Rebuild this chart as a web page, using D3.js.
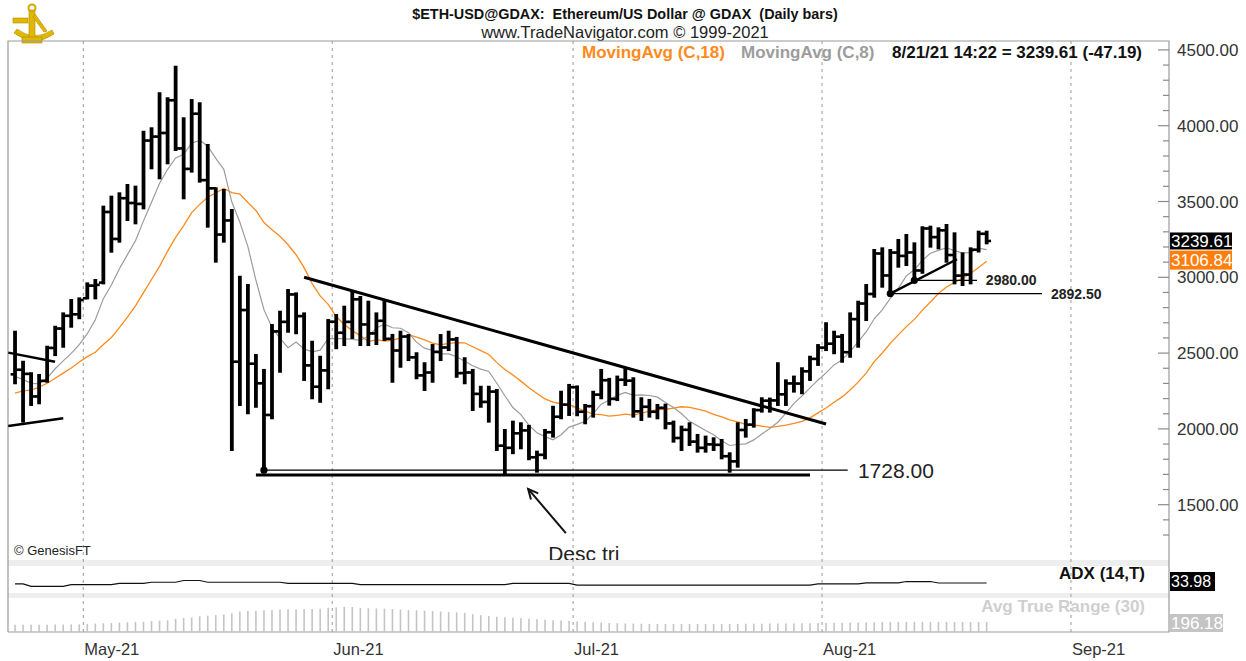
<!DOCTYPE html>
<html lang="en">
<head>
    <meta charset="UTF-8">
    <title>$ETH-USD@GDAX Daily bars</title>
    <script src="https://d3js.org/d3.v7.min.js"></script>
    <style>
        body {
            margin: 0;
            background-color: #ffffff;
            font-family: Arial, "Liberation Sans", sans-serif;
        }

        svg {
            display: block;
        }

        .axis-label {
            font-size: 17px;
            fill: #333;
        }

        .month-label {
            font-size: 16.5px;
            fill: #333;
        }

        .grid {
            stroke: #9a9a9a;
            stroke-width: 1;
            stroke-dasharray: 3, 4;
        }
    </style>
</head>
<body>
<svg width="1246" height="661"></svg>
<script>
    // daily bars, 4/22/21 .. 8/21/21
    const firstDay = "2021-04-22T12:00:00Z";

    const opens = [2360, 2390, 2363, 2214, 2317, 2534, 2662, 2746, 2756, 2862,
        2945, 2965, 3431, 3253, 3522, 3490, 3484, 3902, 3928, 3952,
        4168, 3850, 3715, 4079, 3641, 3587, 3282, 3375, 2443, 2784,
        2430, 2301, 2092, 2643, 2706, 2887, 2744, 2419, 2278, 2386,
        2707, 2634, 2706, 2855, 2689, 2630, 2713, 2594, 2517, 2609,
        2472, 2353, 2372, 2508, 2537, 2590, 2368, 2372, 2231, 2178,
        2246, 1889, 1875, 1971, 1990, 1813, 1829, 1978, 2080, 2160,
        2275, 2113, 2150, 2226, 2321, 2198, 2324, 2318, 2116, 2146,
        2113, 2139, 2036, 1940, 1994, 1916, 1875, 1898, 1895, 1820,
        1786, 1993, 2028, 2124, 2186, 2188, 2228, 2300, 2299, 2380,
        2462, 2536, 2562, 2608, 2506, 2724, 2827, 2890, 3157, 3012,
        3163, 3141, 3164, 3045, 3322, 3265, 3310, 3147, 3011, 3018,
        3182, 3287];

    const highs = [2641, 2443, 2367, 2356, 2542, 2674, 2762, 2850, 2861, 2960,
        2982, 3466, 3532, 3554, 3609, 3598, 3960, 3983, 4214, 4181,
        4389, 4049, 4169, 4148, 3873, 3587, 3576, 3444, 3004, 2949,
        2487, 2389, 2685, 2773, 2916, 2894, 2762, 2575, 2476, 2718,
        2751, 2806, 2905, 2870, 2839, 2762, 2850, 2620, 2641, 2619,
        2499, 2433, 2553, 2619, 2641, 2600, 2466, 2389, 2278, 2278,
        2257, 1993, 2048, 2037, 2020, 1850, 1993, 2146, 2245, 2290,
        2280, 2158, 2245, 2389, 2330, 2345, 2400, 2334, 2202, 2191,
        2158, 2160, 2048, 2015, 2037, 1960, 1949, 1938, 1927, 1839,
        2037, 2059, 2130, 2202, 2200, 2433, 2320, 2345, 2400, 2476,
        2553, 2697, 2641, 2620, 2762, 2839, 2949, 3180, 3191, 3180,
        3246, 3279, 3224, 3330, 3334, 3323, 3345, 3290, 3158, 3191,
        3301, 3301];

    const lows = [2301, 2048, 2158, 2169, 2311, 2487, 2542, 2674, 2730, 2861,
        2861, 2960, 3169, 3235, 3378, 3356, 3455, 3719, 3653, 3752,
        3840, 3521, 3697, 3631, 3334, 3103, 3235, 1861, 2158, 2103,
        2146, 1728, 2070, 2377, 2641, 2631, 2323, 2202, 2179, 2268,
        2532, 2553, 2600, 2553, 2553, 2560, 2587, 2311, 2410, 2454,
        2334, 2257, 2311, 2454, 2520, 2344, 2301, 2125, 2146, 2048,
        1861, 1707, 1840, 1872, 1800, 1718, 1806, 1949, 2070, 2092,
        2090, 2037, 2081, 2202, 2160, 2190, 2290, 2081, 2059, 2081,
        2070, 2004, 1916, 1861, 1894, 1850, 1850, 1861, 1806, 1718,
        1751, 1949, 2015, 2114, 2114, 2158, 2158, 2246, 2235, 2323,
        2422, 2520, 2499, 2443, 2476, 2542, 2718, 2872, 2938, 2892.5,
        3070, 3081, 2980, 3030, 3202, 3191, 3103, 2960, 2949, 2960,
        3170, 3224];

    const closes = [2390, 2363, 2214, 2317, 2534, 2662, 2746, 2756, 2850, 2945,
        2950, 3431, 3253, 3522, 3490, 3484, 3902, 3928, 3952, 4168,
        3850, 3715, 4079, 3641, 3587, 3282, 3375, 2443, 2784, 2430,
        2301, 2092, 2643, 2706, 2887, 2744, 2419, 2278, 2386, 2707,
        2634, 2706, 2855, 2689, 2630, 2713, 2594, 2517, 2609, 2472,
        2353, 2372, 2508, 2537, 2590, 2368, 2372, 2231, 2178, 2246,
        1889, 1875, 1971, 1990, 1813, 1829, 1978, 2080, 2160, 2275,
        2113, 2150, 2226, 2321, 2198, 2324, 2318, 2116, 2146, 2113,
        2139, 2036, 1940, 1994, 1916, 1875, 1898, 1895, 1820, 1786,
        1993, 2028, 2124, 2186, 2188, 2228, 2300, 2299, 2380, 2462,
        2536, 2562, 2608, 2506, 2724, 2827, 2890, 3157, 3012, 3163,
        3141, 3164, 3045, 3322, 3265, 3310, 3147, 3011, 3018, 3182,
        3287, 3239.61];

    // closes 4/5 .. 4/21, only needed to start the moving averages
    const priorCloses = [2107, 2113, 1964, 2078, 2071, 2134, 2154, 2140, 2300,
        2432, 2514, 2422, 2340, 2237, 2166, 2330, 2364];

    // last values as printed on the right axis
    const lastMa18 = 3106.84;
    const lastChange = -47.19;

    const adxValues = [30.8, 30.8, 22.3, 22.3, 22.3, 22.3, 22.3, 28.3, 28.3, 28.3,
        28.3, 28.3, 28.3, 32.9, 32.9, 32.9, 32.9, 36.5, 36.5, 36.5,
        36.5, 42.5, 42.5, 42.5, 36.5, 36.5, 36.5, 36.5, 36.5, 36.5,
        36.5, 36.5, 36.5, 36.5, 32.9, 32.9, 32.9, 32.9, 32.9, 32.9,
        32.9, 32.9, 32.9, 28.3, 28.3, 28.3, 28.3, 28.3, 28.3, 28.3,
        28.3, 28.3, 28.3, 28.3, 28.3, 28.3, 28.3, 28.3, 28.3, 28.3,
        28.3, 28.3, 32.9, 32.9, 32.9, 32.9, 32.9, 32.9, 32.9, 32.9,
        27, 27, 27, 27, 27, 27, 27, 27, 27, 27,
        27, 27, 27, 27, 27, 27, 27, 27, 27, 27,
        27, 27, 27, 27, 27, 27, 27, 27, 27, 27,
        30.8, 30.8, 30.8, 30.8, 30.8, 30.8, 34.4, 34.4, 34.4, 34.4,
        34.4, 39, 39, 39, 39, 34, 34, 34, 34, 34,
        34, 33.98];

    const atrValues = [140, 140, 142, 142, 144, 145, 146, 148, 150, 160,
        165, 170, 175, 185, 190, 196, 200, 215, 224, 230,
        260, 275, 285, 310, 320, 330, 345, 370, 400, 410,
        415, 425, 430, 440, 445, 448, 450, 450, 455, 475,
        485, 493, 490, 470, 465, 462, 458, 450, 440, 432,
        425, 420, 410, 400, 392, 385, 375, 350, 330, 315,
        300, 290, 280, 270, 260, 250, 240, 232, 225, 215,
        205, 198, 192, 185, 178, 172, 168, 165, 162, 160,
        158, 158, 157, 157, 156, 156, 155, 155, 155, 156,
        160, 162, 163, 163, 165, 167, 168, 168, 170, 172,
        175, 178, 180, 183, 185, 187, 190, 192, 194, 195,
        196, 197, 198, 198, 199, 199, 198, 198, 197, 197,
        196, 196.18];

    const priceTicks = [1500, 2000, 2500, 3000, 3500, 4000, 4500];
    const monthStarts = ["2021-05-01", "2021-06-01", "2021-07-01", "2021-08-01", "2021-09-01"];
    const monthLabels = ["May-21", "Jun-21", "Jul-21", "Aug-21", "Sep-21"];

    // drawn studies: [bar index, price] end points
    const trendLines = [
        {a: [-0.84, 2503], b: [4.98, 2443], w: 2.5},
        {a: [-0.84, 2019], b: [6.01, 2070], w: 2.5},
        {a: [36.0, 3000], b: [101.0, 2032], w: 3},
        {a: [30.0, 1696], b: [99.0, 1696], w: 3},
        {a: [30.8, 1728], b: [103.7, 1728], w: 1.2},
        {a: [109, 2892.5], b: [117.3, 3119], w: 2.5},
        {a: [112, 2980], b: [119.8, 2980], w: 1.2},
        {a: [109, 2892.5], b: [127.9, 2892.5], w: 1.2}
    ];
    const dots = [[31, 1728], [109, 2892.5], [112, 2980]];

    const svg = d3.select("svg");
    const frame = {left: 8, right: 1169, top: 41, mainBottom: 560, bottom: 632};
    const day = 24 * 3600 * 1000;
    const t0 = new Date(firstDay);
    const dateAt = i => new Date(t0.getTime() + i * day);

    const bars = closes.map((c, i) => ({
        date: dateAt(i), open: opens[i], high: highs[i], low: lows[i], close: c,
        adx: adxValues[i], atr: atrValues[i]
    }));

    const x = d3.scaleUtc()
        .domain([new Date("2021-04-21T15:00:00Z"), new Date("2021-09-13T05:00:00Z")])
        .range([frame.left, frame.right]);
    const y = d3.scaleLinear().domain([1500, 4500]).range([504.7, 49.9]);
    const yAdx = d3.scaleLinear().domain([0, 85]).range([593, 568]);
    const yAtr = d3.scaleLinear().domain([0, 500]).range([frame.bottom, frame.bottom - 25.5]);

    function movingAvg(period) {
        const all = priorCloses.concat(closes);
        const off = priorCloses.length;
        return closes.map((c, i) => d3.mean(all.slice(off + i - period + 1, off + i + 1)));
    }
    const ma18 = movingAvg(18), ma8 = movingAvg(8);

    // ---- logo (gold sextant)
    const logo = svg.append("g").attr("fill", "#e0b800").attr("stroke", "#b08a00").attr("stroke-width", 0.6);
    logo.append("path").attr("d", "M14,33 Q34,48 54,34 L52,30 Q34,42 17,29 Z");
    logo.append("rect").attr("x", 29).attr("y", 10).attr("width", 6).attr("height", 32);
    logo.append("rect").attr("x", 13).attr("y", 18).attr("width", 15).attr("height", 5);
    logo.append("path").attr("d", "M35,14 L47,31 L44,32 L33,17 Z");
    logo.append("circle").attr("cx", 32).attr("cy", 8).attr("r", 3.5).attr("fill", "none").attr("stroke", "#d0a800").attr("stroke-width", 2);
    logo.append("rect").attr("x", 22).attr("y", 37).attr("width", 20).attr("height", 6);

    // ---- titles
    svg.append("text").attr("x", 625).attr("y", 19).attr("text-anchor", "middle")
        .style("font-size", "14.4px").style("font-weight", "bold").style("white-space", "pre").attr("fill", "#111")
        .text("$ETH-USD@GDAX:  Ethereum/US Dollar @ GDAX  (Daily bars)");
    svg.append("text").attr("x", 625).attr("y", 38).attr("text-anchor", "middle")
        .style("font-size", "16.5px").attr("fill", "#222")
        .text("www.TradeNavigator.com \u00a9 1999-2021");

    // ---- panel bands and frame
    svg.append("rect").attr("x", frame.left).attr("y", 560).attr("width", frame.right - frame.left).attr("height", 6).attr("fill", "#eeeeee");
    svg.append("rect").attr("x", frame.left).attr("y", 593).attr("width", frame.right - frame.left).attr("height", 5).attr("fill", "#eeeeee");

    svg.selectAll(".grid").data(monthStarts).join("line")
        .attr("class", "grid")
        .attr("x1", d => x(new Date(d + "T00:00:00Z"))).attr("x2", d => x(new Date(d + "T00:00:00Z")))
        .attr("y1", frame.top).attr("y2", frame.bottom);

    svg.append("path")
        .attr("d", `M${frame.left},${frame.bottom}V${frame.top}H${frame.right}V${frame.bottom}H${frame.left}`)
        .attr("fill", "none").attr("stroke", "#9a9a9a").attr("stroke-width", 1.2);

    svg.selectAll(".month-label").data(monthLabels).join("text")
        .attr("class", "month-label")
        .attr("x", (d, i) => x(new Date(monthStarts[i] + "T00:00:00Z")) + 1)
        .attr("y", 655)
        .text(d => d);

    // ---- right price axis
    const minorTicks = d3.range(1300, 4600, 100);
    svg.selectAll(".minor").data(minorTicks).join("line")
        .attr("class", "minor")
        .attr("x1", d => d % 500 === 0 ? frame.right - 11 : frame.right - 6).attr("x2", frame.right)
        .attr("y1", d => y(d)).attr("y2", d => y(d))
        .attr("stroke", "#8a8a8a").attr("stroke-width", 1.2);
    svg.selectAll(".axis-label").data(priceTicks).join("text")
        .attr("class", "axis-label")
        .attr("x", 1177).attr("y", d => y(d)).attr("dy", "0.36em")
        .text(d => d3.format(".2f")(d));

    // ---- main price panel
    svg.append("clipPath").attr("id", "main-clip").append("rect")
        .attr("x", frame.left).attr("y", frame.top)
        .attr("width", frame.right - frame.left).attr("height", frame.mainBottom - frame.top);
    const main = svg.append("g").attr("clip-path", "url(#main-clip)");

    const maLine = vals => d3.line().x((d, i) => x(bars[i].date)).y(d => y(d))(vals);
    main.append("path").attr("d", maLine(ma18)).attr("fill", "none").attr("stroke", "#ff8a1c").attr("stroke-width", 1.3);
    main.append("path").attr("d", maLine(ma8)).attr("fill", "none").attr("stroke", "#9c9c9c").attr("stroke-width", 1.2);

    const barG = main.append("g").attr("stroke", "#000");
    barG.selectAll(".hl").data(bars).join("line")
        .attr("x1", d => x(d.date)).attr("x2", d => x(d.date))
        .attr("y1", d => y(d.high) - 1).attr("y2", d => y(d.low) + 1)
        .attr("stroke-width", 3.8);
    barG.selectAll(".op").data(bars).join("line")
        .attr("x1", d => x(d.date) - 4.4).attr("x2", d => x(d.date))
        .attr("y1", d => y(d.open)).attr("y2", d => y(d.open))
        .attr("stroke-width", 2.6);
    barG.selectAll(".cl").data(bars).join("line")
        .attr("x1", d => x(d.date)).attr("x2", d => x(d.date) + 4.4)
        .attr("y1", d => y(d.close)).attr("y2", d => y(d.close))
        .attr("stroke-width", 2.6);

    // drawn lines and markers
    main.selectAll(".trend").data(trendLines).join("line")
        .attr("x1", d => x(dateAt(d.a[0]))).attr("y1", d => y(d.a[1]))
        .attr("x2", d => x(dateAt(d.b[0]))).attr("y2", d => y(d.b[1]))
        .attr("stroke", "#000").attr("stroke-width", d => d.w);
    main.selectAll(".dot").data(dots).join("circle")
        .attr("cx", d => x(dateAt(d[0]))).attr("cy", d => y(d[1])).attr("r", 3.6).attr("fill", "#000");

    main.append("text").attr("x", x(dateAt(104.97))).attr("y", y(1728)).attr("dy", "0.36em")
        .style("font-size", "21px").attr("fill", "#222").text("1728.00");
    main.append("text").attr("x", x(dateAt(120.9))).attr("y", y(2980)).attr("dy", "0.36em")
        .style("font-size", "14px").style("font-weight", "bold").attr("fill", "#222").text("2980.00");
    main.append("text").attr("x", x(dateAt(129))).attr("y", y(2892.5)).attr("dy", "0.36em")
        .style("font-size", "14px").style("font-weight", "bold").attr("fill", "#222").text("2892.50");

    // arrow pointing at the triangle base
    const tip = [x(dateAt(63.9)), y(1604)], tail = [x(dateAt(68.6)), y(1313)];
    main.append("line").attr("x1", tail[0]).attr("y1", tail[1]).attr("x2", tip[0]).attr("y2", tip[1])
        .attr("stroke", "#111").attr("stroke-width", 2);
    const ang = Math.atan2(tail[1] - tip[1], tail[0] - tip[0]);
    const head = [-0.45, 0.45].map(a => [tip[0] + 11 * Math.cos(ang + a), tip[1] + 11 * Math.sin(ang + a)]);
    main.append("path").attr("d", `M${head[0]}L${tip}L${head[1]}`)
        .attr("fill", "none").attr("stroke", "#111").attr("stroke-width", 2);
    main.append("text").attr("x", x(dateAt(66.4))).attr("y", 561)
        .style("font-size", "21px").attr("fill", "#222").text("Desc tri");

    main.append("text").attr("x", 14).attr("y", 555)
        .style("font-size", "13px").attr("fill", "#222").text("\u00a9 GenesisFT");

    // legend
    const legend = svg.append("text").attr("y", 58).style("font-size", "17px").style("font-weight", "bold");
    legend.append("tspan").attr("x", 582).attr("fill", "#ff8a1c").text("MovingAvg (C,18)");
    legend.append("tspan").attr("x", 741).attr("fill", "#9c9c9c").text("MovingAvg (C,8)");
    legend.append("tspan").attr("x", 892).attr("fill", "#111")
        .text(`8/21/21 14:22 = ${closes[closes.length - 1].toFixed(2)} (${lastChange.toFixed(2)})`);

    // last value boxes on the axis
    function valueBox(cy, h, bg, label) {
        svg.append("rect").attr("x", frame.right + 1).attr("y", cy - h / 2).attr("width", 62).attr("height", h).attr("fill", bg);
        svg.append("text").attr("x", frame.right + 2).attr("y", cy).attr("dy", "0.36em")
            .style("font-size", "17px").attr("fill", "#fff").text(label);
    }
    valueBox(y(closes[closes.length - 1]), 17, "#000", closes[closes.length - 1].toFixed(2));
    valueBox(y(lastMa18) - 1, 19, "#ff7f0e", lastMa18.toFixed(2));

    // ---- ADX panel
    svg.append("path").attr("d", d3.line().x(d => x(d.date)).y(d => yAdx(d.adx))(bars))
        .attr("fill", "none").attr("stroke", "#111").attr("stroke-width", 1.2);
    svg.append("text").attr("x", 1145).attr("y", 579).attr("text-anchor", "end")
        .style("font-size", "17px").style("font-weight", "bold").attr("fill", "#111").text("ADX (14,T)");
    svg.append("rect").attr("x", frame.right + 1).attr("y", 572).attr("width", 45).attr("height", 19).attr("fill", "#000");
    svg.append("text").attr("x", frame.right + 2).attr("y", 581.5).attr("dy", "0.36em")
        .style("font-size", "16px").attr("fill", "#fff").text(adxValues[adxValues.length - 1].toFixed(2));

    // ---- Avg True Range panel
    svg.selectAll(".atr").data(bars).join("line")
        .attr("x1", d => x(d.date)).attr("x2", d => x(d.date))
        .attr("y1", frame.bottom).attr("y2", d => yAtr(d.atr))
        .attr("stroke", "#c4c4c4").attr("stroke-width", 1.6);
    svg.append("text").attr("x", 1145).attr("y", 612).attr("text-anchor", "end")
        .style("font-size", "17px").style("font-weight", "bold").attr("fill", "#cfcfcf").text("Avg True Range (30)");
    svg.append("rect").attr("x", frame.right + 1).attr("y", 614).attr("width", 53).attr("height", 18).attr("fill", "#c4c4c4");
    svg.append("text").attr("x", frame.right + 2).attr("y", 623).attr("dy", "0.36em")
        .style("font-size", "17px").attr("fill", "#fff").text(atrValues[atrValues.length - 1].toFixed(2));
</script>
</body>
</html>
